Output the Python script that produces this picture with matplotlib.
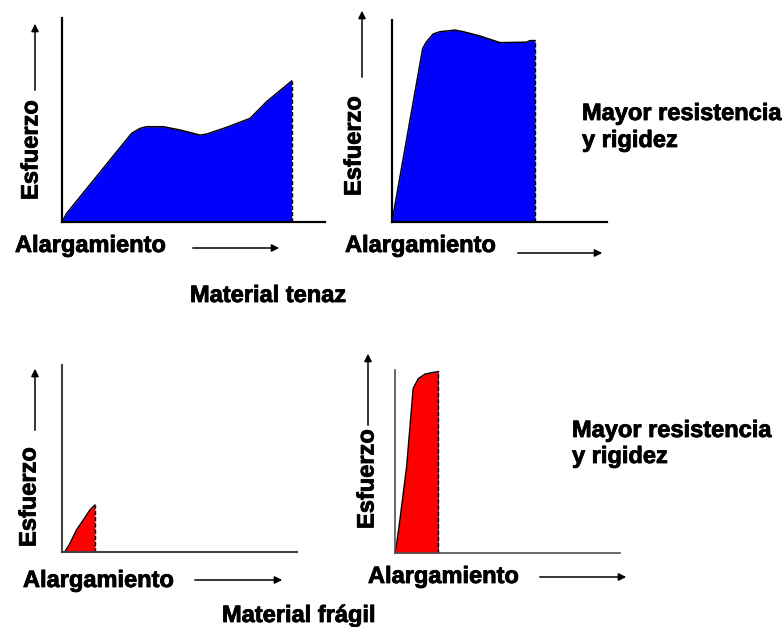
import matplotlib
matplotlib.use("Agg")
import matplotlib.pyplot as plt
from matplotlib.patches import FancyArrowPatch
import matplotlib.patheffects as pe

W, H = 782, 627
plt.rcParams['font.family'] = ['Liberation Sans', 'DejaVu Sans']

# ---- data (strain %, stress %) ----
tenaz_x = [0, 1.8, 26.5, 29.7, 32.2, 38.5, 44.9, 52.5, 55.0, 62.6, 71.5, 77.8, 87.3]
tenaz_y = [0, 4.3, 43.5, 45.9, 46.7, 46.7, 45.1, 42.6, 43.1, 46.4, 50.8, 59.0, 69.1]

tenaz_fuerte_x = [0, 14.3, 16.1, 19.2, 22.3, 29.3, 33.2, 40.9, 50.2, 62.6, 64.2, 66.5]
tenaz_fuerte_y = [0, 86.0, 89.3, 93.1, 94.2, 95.0, 94.2, 92.1, 88.8, 89.0, 89.8, 89.8]

fragil_x = [0, 1.3, 3.4, 6.2, 9.1, 11.9, 14.0]
fragil_y = [0, 0.2, 4.6, 11.8, 17.1, 22.5, 25.1]

fragil_fuerte_x = [0, 0.7, 2.2, 5.2, 8.1, 10.4, 13.3, 16.3, 19.3]
fragil_fuerte_y = [0, 4.4, 18.0, 47.2, 89.9, 95.3, 97.7, 98.5, 99.1]

xlabel = "Alargamiento"
ylabel = "Esfuerzo"
note_lines = ["Mayor resistencia", "y rigidez"]
title_tenaz = "Material tenaz"
title_fragil = "Material frágil"

FS = 17

fig = plt.figure(figsize=(W / 100, H / 100), dpi=100)
fig.patch.set_facecolor('white')


def fx(px):
    return px / W


def fy(py):
    return 1 - py / H


def panel(x0, ybot, x1, ytop, xs, ys, color, spine_color, spine_lw):
    ax = fig.add_axes([fx(x0), fy(ybot), (x1 - x0) / W, (ybot - ytop) / H])
    ax.set_xlim(0, 100)
    ax.set_ylim(0, 100)
    ax.patch.set_alpha(0)
    for s in ['top', 'right']:
        ax.spines[s].set_visible(False)
    for s in ['left', 'bottom']:
        ax.spines[s].set_color(spine_color)
        ax.spines[s].set_linewidth(spine_lw)
        ax.spines[s].set_zorder(5)
    ax.set_xticks([])
    ax.set_yticks([])
    ax.fill_between(xs, ys, 0, color=color, lw=0, zorder=2)
    ax.plot(xs, ys, color='black', lw=1.1, zorder=3, clip_on=False)
    ax.plot([xs[-1], xs[-1]], [0, ys[-1]], color='black', lw=1.0,
            ls=(0, (3, 1.5)), zorder=3)
    return ax


def arrow(p0, p1):
    a = FancyArrowPatch((fx(p0[0]), fy(p0[1])), (fx(p1[0]), fy(p1[1])),
                        transform=fig.transFigure, arrowstyle='-|>',
                        mutation_scale=11, lw=1.1, color='black')
    fig.add_artist(a)


stroke = [pe.withStroke(linewidth=0.6, foreground='black')]


def text(px, py, s, **kw):
    fig.text(fx(px), fy(py), s, fontsize=FS, fontweight='bold', color='black',
             path_effects=stroke, **kw)


# Panels
panel(62, 222, 325, 18, tenaz_x, tenaz_y, '#0000FF', 'black', 1.6)
panel(392, 222, 607, 20, tenaz_fuerte_x, tenaz_fuerte_y, '#0000FF', 'black', 1.6)
panel(62, 552, 297, 365, fragil_x, fragil_y, '#FF0000', '#404040', 1.5)
panel(395, 553, 620, 370, fragil_fuerte_x, fragil_fuerte_y, '#FF0000', '#505050', 1.2)

# x labels and arrows
text(15, 252, xlabel, ha='left', va='baseline')
arrow((190, 248), (282, 248))
text(345, 252, xlabel, ha='left', va='baseline')
arrow((515, 253), (605, 253))
text(23, 587, xlabel, ha='left', va='baseline')
arrow((192, 580), (285, 580))
text(368, 583, xlabel, ha='left', va='baseline')
arrow((537, 577), (629, 577))

# y labels and arrows
text(31, 150, ylabel, ha='center', va='center', rotation=90)
arrow((35, 93), (35, 21))
text(354, 146, ylabel, ha='center', va='center', rotation=90)
arrow((362, 80), (362, 8))
text(29, 497, ylabel, ha='center', va='center', rotation=90)
arrow((35, 433), (35, 366))
text(367, 479, ylabel, ha='center', va='center', rotation=90)
arrow((368, 428), (368, 351))

# notes and titles
text(582, 120, note_lines[0], ha='left', va='baseline')
text(582, 147, note_lines[1], ha='left', va='baseline')
text(572, 437, note_lines[0], ha='left', va='baseline')
text(572, 463, note_lines[1], ha='left', va='baseline')
text(190, 302, title_tenaz, ha='left', va='baseline')
text(222, 622, title_fragil, ha='left', va='baseline')

fig.savefig('out.png', dpi=100, facecolor='white')
